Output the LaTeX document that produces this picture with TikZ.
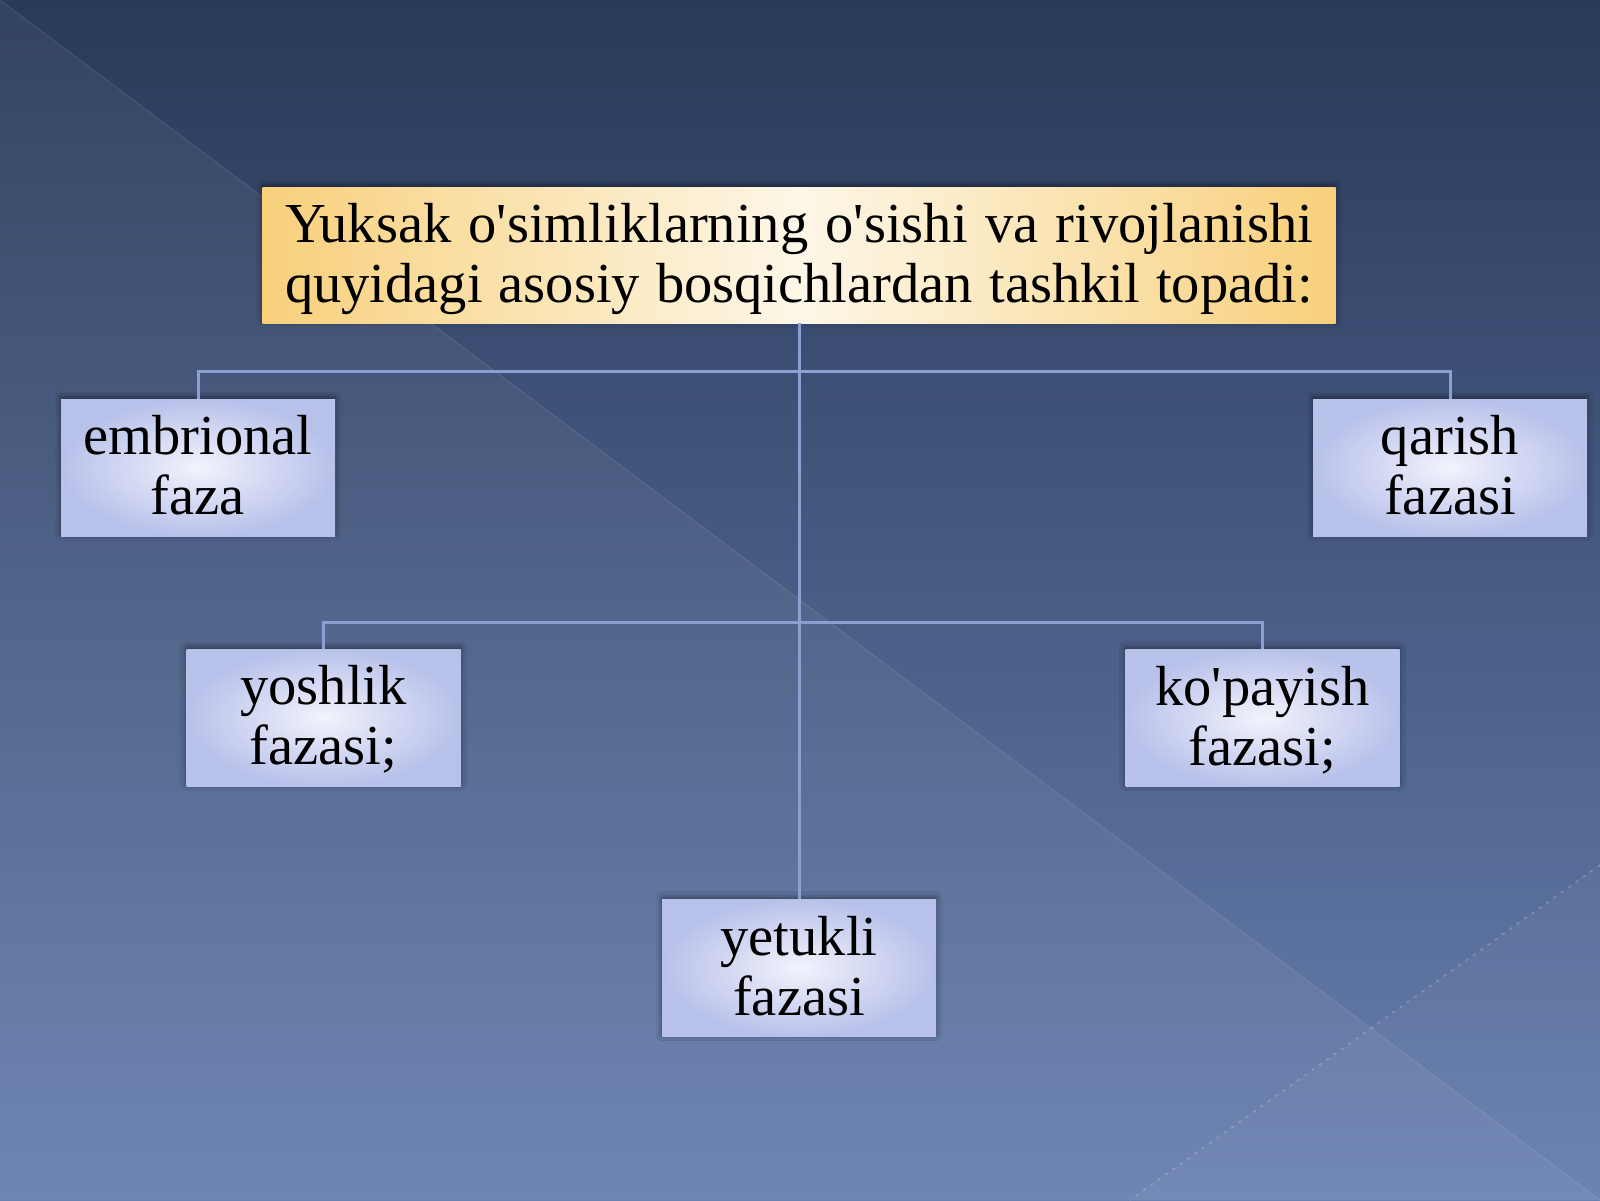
\documentclass[tikz,border=0pt]{standalone}
\usepackage{fontspec}
\newfontfamily\tnr{Liberation Serif}
\usetikzlibrary{shadows.blur}
\definecolor{bgtop}{HTML}{293959}
\definecolor{bgbot}{HTML}{6880B0}
\definecolor{conncol}{HTML}{8A9FD2}
\definecolor{gold}{HTML}{F8D07C}
\definecolor{cream}{HTML}{FDF7E8}
\definecolor{lavout}{HTML}{B8C1EA}
\definecolor{lavin}{HTML}{F2F3FC}
\newcommand\twol[2]{\begin{tabular}{@{}c@{}}\rule{0pt}{52pt}#1\\#2\end{tabular}}
\newcommand\jl[1]{\makebox[1028pt][s]{#1}}
\begin{document}
\begin{tikzpicture}[x=1pt,y=-1pt,
  boxbase/.style={rectangle, inner sep=0pt, text=black,
    font=\tnr\fontsize{56.5}{60}\selectfont,
    blur shadow={shadow xshift=0pt, shadow yshift=2pt, shadow blur radius=6pt, shadow opacity=50}},
  phase/.style={boxbase, minimum width=274pt, minimum height=137pt,
    inner color=lavin, outer color=lavout},
  titlebox/.style={boxbase, minimum width=1073pt, minimum height=136pt,
    left color=gold, right color=gold, middle color=cream},
  link/.style={draw=conncol, line width=3pt}]
\useasboundingbox (0,0) rectangle (1600,1200);
% background
\shade[top color=bgtop, bottom color=bgbot] (0,0) rectangle (1600,1200);
\fill[white, opacity=0.05] (0,0) -- (1600,1200) -- (0,1200) -- cycle;
\fill[white, opacity=0.03] (1600,865) -- (1600,1200) -- (1130,1200) -- cycle;
\draw[white, opacity=0.07, line width=1.5pt] (0,0) -- (1600,1200);
\draw[white, opacity=0.22, line width=1.5pt, dash pattern=on 3pt off 6pt] (1600,865) -- (1130,1200);
% nodes
\node[titlebox] (top) at (799,255) {\twol{\jl{Yuksak o'simliklarning o'sishi va rivojlanishi}}{\jl{quyidagi asosiy bosqichlardan tashkil topadi:}}};
\node[phase] (emb) at (198,467.5) {\twol{embrional}{faza}};
\node[phase] (qar) at (1450,467.5) {\twol{qarish}{fazasi}};
\node[phase] (yosh) at (323.5,717.5) {\twol{yoshlik}{fazasi;}};
\node[phase] (kop) at (1262.5,718) {\twol{ko'payish}{fazasi;}};
\node[phase] (yet) at (799,968) {\twol{yetukli}{fazasi}};
\coordinate (h1) at (799,371);
\coordinate (h2) at (799,622);
% connectors
\draw[link] (top.south) -- (yet.north);
\draw[link] (emb.north) |- (h1) -| (qar.north);
\draw[link] (yosh.north) |- (h2) -| (kop.north);
\end{tikzpicture}
\end{document}
